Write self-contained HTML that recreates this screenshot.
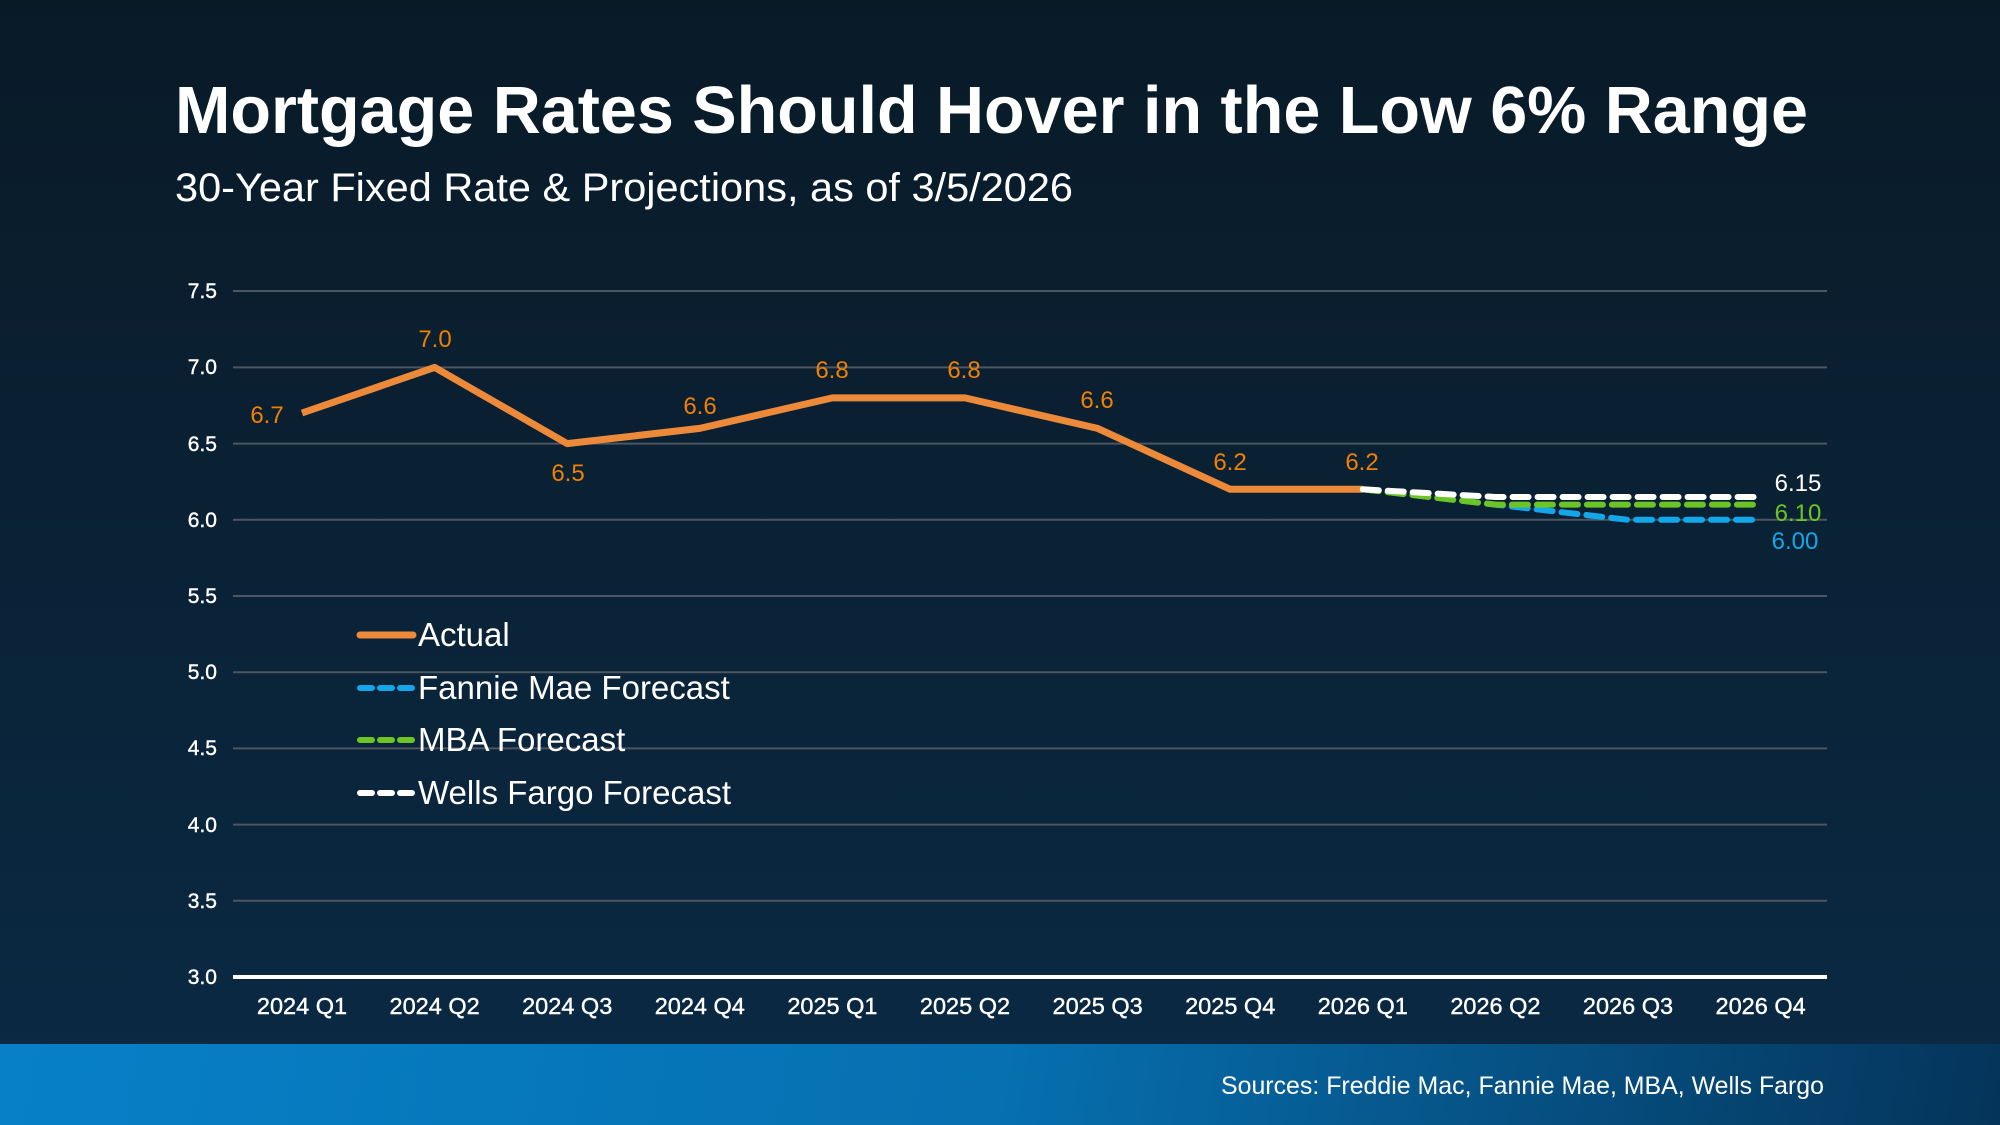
<!DOCTYPE html>
<html><head><meta charset="utf-8"><style>
html,body{margin:0;padding:0;width:2000px;height:1125px;overflow:hidden}
body{background:linear-gradient(180deg,#091a27 0%,#0a2236 50%,#0b2a45 100%);font-family:"Liberation Sans",Arial,sans-serif}
.footer{position:absolute;left:0;top:1044px;width:2000px;height:81px;background:linear-gradient(100deg,#0780c8 0%,#0670b0 50%,#05345a 100%)}
</style></head><body>
<div class="footer"></div>
<svg width="2000" height="1125" style="position:absolute;left:0;top:0" font-family="Liberation Sans, Arial, sans-serif">
<text x="175" y="133" fill="#fff" font-size="67" font-weight="bold" textLength="1633" lengthAdjust="spacingAndGlyphs">Mortgage Rates Should Hover in the Low 6% Range</text>
<text x="175" y="201" fill="#fff" font-size="40" textLength="898" lengthAdjust="spacingAndGlyphs">30-Year Fixed Rate &amp; Projections, as of 3/5/2026</text>
<g stroke="#4d5560" stroke-width="2">
<line x1="233" x2="1827" y1="291" y2="291"/><line x1="233" x2="1827" y1="367.4" y2="367.4"/>
<line x1="233" x2="1827" y1="443.6" y2="443.6"/><line x1="233" x2="1827" y1="519.8" y2="519.8"/>
<line x1="233" x2="1827" y1="596" y2="596"/><line x1="233" x2="1827" y1="672.2" y2="672.2"/>
<line x1="233" x2="1827" y1="748.4" y2="748.4"/><line x1="233" x2="1827" y1="824.6" y2="824.6"/>
<line x1="233" x2="1827" y1="900.8" y2="900.8"/>
</g>
<line x1="233" x2="1827" y1="977" y2="977" stroke="#fff" stroke-width="4"/>
<g fill="#fff" font-size="21" text-anchor="end" stroke="#fff" stroke-width="0.4">
<text x="217" y="298">7.5</text><text x="217" y="374">7.0</text><text x="217" y="451">6.5</text>
<text x="217" y="527">6.0</text><text x="217" y="603">5.5</text><text x="217" y="679">5.0</text>
<text x="217" y="755">4.5</text><text x="217" y="832">4.0</text><text x="217" y="908">3.5</text><text x="217" y="984">3.0</text>
</g>
<g fill="#fff" font-size="23.5" text-anchor="middle" stroke="#fff" stroke-width="0.4">
<text x="302" y="1014">2024 Q1</text><text x="434.6" y="1014">2024 Q2</text><text x="567.2" y="1014">2024 Q3</text>
<text x="699.8" y="1014">2024 Q4</text><text x="832.4" y="1014">2025 Q1</text><text x="965" y="1014">2025 Q2</text>
<text x="1097.6" y="1014">2025 Q3</text><text x="1230.2" y="1014">2025 Q4</text><text x="1362.8" y="1014">2026 Q1</text>
<text x="1495.4" y="1014">2026 Q2</text><text x="1628" y="1014">2026 Q3</text><text x="1760.6" y="1014">2026 Q4</text>
</g>
<polyline fill="none" stroke="#ed8a3a" stroke-width="7" stroke-linejoin="round" points="302,413 434.6,367.4 567.2,443.6 699.8,428.4 832.4,397.9 965,397.9 1097.6,428.4 1230.2,489.3 1362.8,489.3"/>
<g fill="none" stroke-width="6" stroke-dasharray="16,9" stroke-linecap="round">
<polyline stroke="#13a7ea" points="1362.8,489.3 1495.4,504.6 1628,519.8 1760.6,519.8"/>
<polyline stroke="#6cc524" points="1362.8,489.3 1495.4,504.6 1628,504.6 1760.6,504.6"/>
<polyline stroke="#fff" points="1362.8,489.3 1495.4,497 1628,497 1760.6,497"/>
</g>
<g fill="#f08000" font-size="24" text-anchor="middle">
<text x="267" y="423">6.7</text><text x="435" y="347">7.0</text><text x="568" y="481">6.5</text>
<text x="700" y="414">6.6</text><text x="832" y="378">6.8</text><text x="964" y="378">6.8</text>
<text x="1097" y="408">6.6</text><text x="1230" y="470">6.2</text><text x="1362" y="470">6.2</text>
</g>
<text x="1798" y="491" fill="#fff" font-size="24" text-anchor="middle">6.15</text>
<text x="1798" y="521" fill="#6cc524" font-size="24" text-anchor="middle">6.10</text>
<text x="1795" y="549" fill="#13a7ea" font-size="24" text-anchor="middle">6.00</text>
<g stroke-width="6" stroke-linecap="round">
<line x1="360" x2="413" y1="635" y2="635" stroke="#ed8a3a" stroke-width="7"/>
<line x1="360" x2="413" y1="688" y2="688" stroke="#13a7ea" stroke-dasharray="12,8"/>
<line x1="360" x2="413" y1="740" y2="740" stroke="#6cc524" stroke-dasharray="12,8"/>
<line x1="360" x2="413" y1="793" y2="793" stroke="#fff" stroke-dasharray="12,8"/>
</g>
<g fill="#fff" font-size="33">
<text x="418" y="646">Actual</text><text x="418" y="699">Fannie Mae Forecast</text>
<text x="418" y="751">MBA Forecast</text><text x="418" y="804">Wells Fargo Forecast</text>
</g>
<text x="1824" y="1094" fill="#fff" font-size="25" text-anchor="end" textLength="603" lengthAdjust="spacingAndGlyphs">Sources: Freddie Mac, Fannie Mae, MBA, Wells Fargo</text>
</svg>
</body></html>
